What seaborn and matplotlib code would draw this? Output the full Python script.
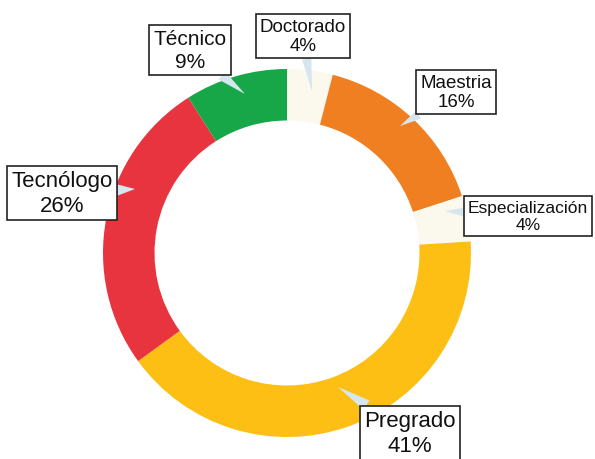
import matplotlib
matplotlib.use("Agg")
import matplotlib.pyplot as plt
import seaborn as sns

categories = ["Doctorado", "Maestria", "Especialización", "Pregrado", "Tecnólogo", "Técnico"]
values = [4, 16, 4, 41, 26, 9]
colors = ["#FBF8EE", "#F07F22", "#FBF8EE", "#FDBF14", "#E8343F", "#17A648"]
label_size = [13.5, 13.5, 12.5, 16, 16, 15]

sns.set_theme(style="white")
plt.rcParams['font.family'] = ['Liberation Sans', 'DejaVu Sans']

W, H = 595, 460
CX, CY, R = 287, 254, 184

def to_data(px, py):
    return (px - CX) / R, (CY - py) / R

fig = plt.figure(figsize=(W / 100, H / 100), dpi=100)
ax = fig.add_axes([0, 0, 1, 1])
ax.pie(values, colors=colors, startangle=90, counterclock=False, radius=1,
       wedgeprops=dict(width=0.28, linewidth=0))
ax.set_xlim(-CX / R, (W - CX) / R)
ax.set_ylim(-(H - CY) / R, CY / R)
ax.set_aspect('equal')
ax.axis('off')

# label box centres (pixels) and pointer tips (pixels)
box_px = [(303, 37), (456, 93), (528, 217), (410, 434), (62, 194), (190, 51)]
tip_px = [(312, 92), (400, 127), (445, 212), (338, 388), (135, 190), (245, 95)]

for cat, v, fs, (bx, by), (tx, ty) in zip(categories, values, label_size, box_px, tip_px):
    xb, yb = to_data(bx, by)
    xt, yt = to_data(tx, ty)
    ax.annotate(f"{cat}\n{v}%", xy=(xt, yt), xytext=(xb, yb),
                ha='center', va='center', fontsize=fs, color='#111111',
                linespacing=1.22,
                bbox=dict(boxstyle='square,pad=0.2', fc='white', ec='#222222', lw=1.2),
                arrowprops=dict(arrowstyle='wedge,tail_width=0.5', fc='#d6e6ee', ec='none',
                                shrinkA=0, shrinkB=0),
                zorder=5)

fig.savefig("out.png", dpi=100)
